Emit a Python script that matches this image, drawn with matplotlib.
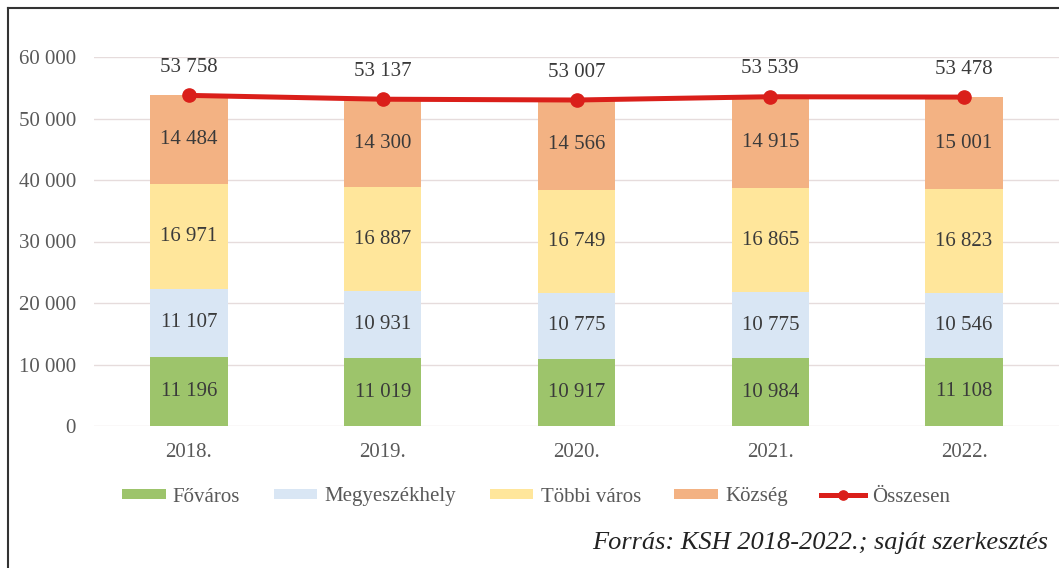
import numpy as np
import matplotlib.pyplot as plt
from matplotlib.lines import Line2D

# =========================================================
# DATA
# =========================================================
years      = ["2018.", "2019.", "2020.", "2021.", "2022."]
fovaros    = [11196, 11019, 10917, 10984, 11108]
megyeszekh = [11107, 10931, 10775, 10775, 10546]
tobbi      = [16971, 16887, 16749, 16865, 16823]
kozseg     = [14484, 14300, 14566, 14915, 15001]
osszesen   = [53758, 53137, 53007, 53539, 53478]

series = [
    ("Főváros",       fovaros,    "#9DC46B"),
    ("Megyeszékhely", megyeszekh, "#D9E6F4"),
    ("Többi város",   tobbi,      "#FFE69B"),
    ("Község",        kozseg,     "#F3B283"),
]

def fmt(v):
    return f"{v:,}".replace(",", " ")

# =========================================================
# PLOT
# =========================================================
plt.rcParams["font.family"] = ["Liberation Serif", "DejaVu Serif"]
W, H = 1059, 568
fig = plt.figure(figsize=(W / 100, H / 100), dpi=100)
ax = fig.add_axes([94 / W, 1 - 426 / H, (W - 94) / W, (426 - 57) / H])

x = np.arange(len(years))
bottom = np.zeros(len(years))
handles = []
for name, vals, col in series:
    vals = np.array(vals)
    h = ax.bar(x, vals, 0.4, bottom=bottom, color=col, label=name, zorder=2)
    handles.append(h)
    for xi, b, v in zip(x, bottom, vals):
        ax.text(xi, b + v / 2, fmt(v), ha="center", va="center",
                fontsize=15, color="#3A3A3A", zorder=4)
    bottom += vals

line, = ax.plot(x, osszesen, color="#DA1F1A", lw=3.6, marker="o", ms=9.5,
                label="Összesen", zorder=5)
handles.append(line)
for xi, v in zip(x, osszesen):
    ax.annotate(fmt(v), (xi, v), xytext=(0, 20), textcoords="offset points",
                ha="center", va="center", fontsize=15, color="#3A3A3A")

ax.set_ylim(0, 60000)
ax.set_xlim(-0.49, 4.49)
ax.set_yticks(np.arange(0, 60001, 10000))
ax.set_yticklabels([fmt(v) for v in range(0, 60001, 10000)])
ax.set_xticks(x)
ax.set_xticklabels(years)
ax.tick_params(length=0, labelsize=15, labelcolor="#595959")
ax.tick_params(axis="x", pad=12)
ax.tick_params(axis="y", pad=13)
ax.grid(axis="y", color="#E6DCDC", lw=1, zorder=0)
ax.set_axisbelow(True)
for s in ax.spines.values():
    s.set_visible(False)

leg = ax.legend(handles=handles, labels=[h.get_label() for h in handles],
                loc="center", bbox_to_anchor=(536 / W, 1 - 497 / H),
                bbox_transform=fig.transFigure, markerscale=0.7,
                ncol=5, frameon=False, fontsize=15, handlelength=2.1, handleheight=0.4,
                columnspacing=1.6, handletextpad=0.35, labelcolor="#595959")

fig.text(1048 / W, 1 - 543 / H, "Forrás: KSH 2018-2022.; saját szerkesztés",
         ha="right", va="center", fontsize=19, style="italic", color="#222222")

# frame
fig.add_artist(Line2D([8 / W, 1], [1 - 8 / H, 1 - 8 / H], color="#333333", lw=1.5))
fig.add_artist(Line2D([8 / W, 8 / W], [0, 1 - 8 / H], color="#333333", lw=1.5))

fig.savefig("out.png", dpi=100)
